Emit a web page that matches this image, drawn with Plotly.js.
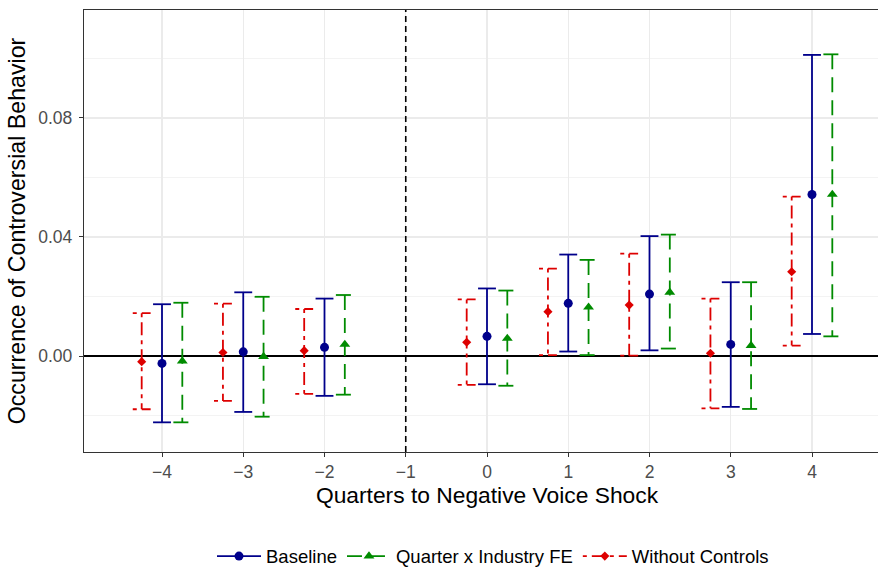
<!DOCTYPE html>
<html>
<head>
<meta charset="utf-8">
<script src="https://cdn.plot.ly/plotly-3.0.1.min.js"></script>
<style>
  html, body { margin: 0; padding: 0; background: #ffffff; overflow: hidden; }
  #frame { width: 878px; height: 572px; overflow: hidden; }
  #chart { width: 890px; height: 572px; }
</style>
</head>
<body>
<div id="frame"><div id="chart"></div></div>
<script>
// Event-study estimates: quarters relative to the negative voice shock
const quarters = [-4, -3, -2, 0, 1, 2, 3, 4];

// Baseline
const baseEst = [-0.0025, 0.0014, 0.0029, 0.0066, 0.0177, 0.0208, 0.0039, 0.0543];
const baseLo  = [-0.0223, -0.0188, -0.0134, -0.0095, 0.0015, 0.0019, -0.0171, 0.0074];
const baseHi  = [0.0174, 0.0214, 0.0193, 0.0227, 0.0341, 0.0403, 0.0248, 0.1012];

// Quarter x Industry FE
const feEst = [-0.0017, -0.0002, 0.0039, 0.0059, 0.0164, 0.0214, 0.0035, 0.0543];
const feLo  = [-0.0223, -0.0204, -0.0130, -0.0100, 0.0003, 0.0025, -0.0178, 0.0066];
const feHi  = [0.0179, 0.0199, 0.0205, 0.0220, 0.0323, 0.0408, 0.0248, 0.1014];

// Without Controls
const ncEst = [-0.0019, 0.0012, 0.0018, 0.0046, 0.0149, 0.0171, 0.0009, 0.0283];
const ncLo  = [-0.0179, -0.0151, -0.0127, -0.0097, 0.0003, 0.0001, -0.0176, 0.0035];
const ncHi  = [0.0144, 0.0176, 0.0158, 0.0190, 0.0294, 0.0344, 0.0193, 0.0536];

const seriesNames = ["Baseline", "Quarter x Industry FE", "Without Controls"];
const xTickVals = [-4, -3, -2, -1, 0, 1, 2, 3, 4];
const yTickVals = [0, 0.04, 0.08];
const shockQuarter = -1;

// dodge offset and half cap width, in x-axis units
const DODGE = 0.25;
const CAP = 0.11;

function shifted(xs, dx) { return xs.map(v => v + dx); }

// Top cap, vertical interval and bottom cap, as separate sub-paths
function errorPath(xs, lo, hi) {
  const px = [], py = [];
  xs.forEach((x, i) => {
    px.push(x - CAP, x + CAP, null, x, x, null, x - CAP, x + CAP, null);
    py.push(hi[i], hi[i], null, hi[i], lo[i], null, lo[i], lo[i], null);
  });
  return { x: px, y: py };
}

// Point estimates separated by gaps so that only the legend shows a line
function pointPath(xs, ys) {
  const px = [], py = [];
  xs.forEach((x, i) => { px.push(x, null); py.push(ys[i], null); });
  return { x: px, y: py };
}

const styles = [
  { color: "#00008B", dash: "solid", symbol: "circle", size: 9, dx: 0, est: baseEst, lo: baseLo, hi: baseHi },
  { color: "#008B00", dash: "15px,8px", symbol: "triangle-up", size: 9.5, dx: DODGE, est: feEst, lo: feLo, hi: feHi },
  { color: "#DD0000", dash: "4px,5px,13px,5px", symbol: "diamond", size: 7, dx: -DODGE, est: ncEst, lo: ncLo, hi: ncHi }
];

const traces = [];
styles.forEach((s, k) => {
  const xs = shifted(quarters, s.dx);
  const eb = errorPath(xs, s.lo, s.hi);
  traces.push({
    type: "scatter", mode: "lines", x: eb.x, y: eb.y,
    line: { color: s.color, width: 1.8, dash: s.dash },
    connectgaps: false, showlegend: false, legendgroup: seriesNames[k],
    hoverinfo: "skip"
  });
});
styles.forEach((s, k) => {
  const xs = shifted(quarters, s.dx);
  const pt = pointPath(xs, s.est);
  traces.push({
    type: "scatter", mode: "lines+markers", name: seriesNames[k],
    x: pt.x, y: pt.y, connectgaps: false,
    line: { color: s.color, width: 1.8, dash: s.dash },
    marker: { color: s.color, symbol: s.symbol, size: s.size },
    legendgroup: seriesNames[k], legendrank: k + 1
  });
});

// The panel runs slightly past the right edge of the 878px frame
const layout = {
  width: 890, height: 572,
  margin: { l: 84, r: 0, t: 10, b: 120 },
  paper_bgcolor: "#ffffff", plot_bgcolor: "#ffffff",
  font: { family: "Liberation Sans, Arial, sans-serif", color: "#000000" },
  showlegend: true,
  legend: {
    orientation: "h", xref: "container", yref: "container",
    x: 493 / 890, xanchor: "center", y: 0.027, yanchor: "middle",
    font: { size: 18.5, color: "#000000" }, traceorder: "normal",
    itemwidth: 44, tracegroupgap: 0
  },
  xaxis: {
    range: [-4.96, 4.96], tickmode: "array", tickvals: xTickVals,
    ticks: "outside", ticklen: 4, tickwidth: 1, tickcolor: "#333333",
    tickfont: { size: 17.5, color: "#4D4D4D" },
    showgrid: true, gridcolor: "#EBEBEB", gridwidth: 1.1,
    zeroline: false, showline: true, mirror: true, linecolor: "#333333", linewidth: 1.2,
    title: { text: "Quarters to Negative Voice Shock", font: { size: 22.8, color: "#000000" }, standoff: 5 }
  },
  yaxis: {
    range: [-0.03227, 0.1163], tickmode: "array", tickvals: yTickVals, tickformat: ".2f",
    ticks: "outside", ticklen: 4, tickwidth: 1, tickcolor: "#333333",
    tickfont: { size: 17.5, color: "#4D4D4D" }, ticklabelstandoff: 3,
    showgrid: true, gridcolor: "#EBEBEB", gridwidth: 1.1,
    minor: { dtick: 0.02, tick0: 0, showgrid: true, gridcolor: "#EBEBEB", gridwidth: 0.6, ticks: "" },
    zeroline: true, zerolinecolor: "#000000", zerolinewidth: 1.6,
    showline: true, mirror: false, linecolor: "#333333", linewidth: 1.2,
    title: { text: "Occurrence of Controversial Behavior", font: { size: 23.2, color: "#000000" }, standoff: 6 }
  },
  shapes: [{
    type: "line", xref: "x", yref: "paper", x0: shockQuarter, x1: shockQuarter, y0: 0, y1: 1,
    line: { color: "#000000", width: 1.6, dash: "6px,4px" }, layer: "above"
  }]
};

Plotly.newPlot("chart", traces, layout, { displayModeBar: false, staticPlot: true });
</script>
</body>
</html>
